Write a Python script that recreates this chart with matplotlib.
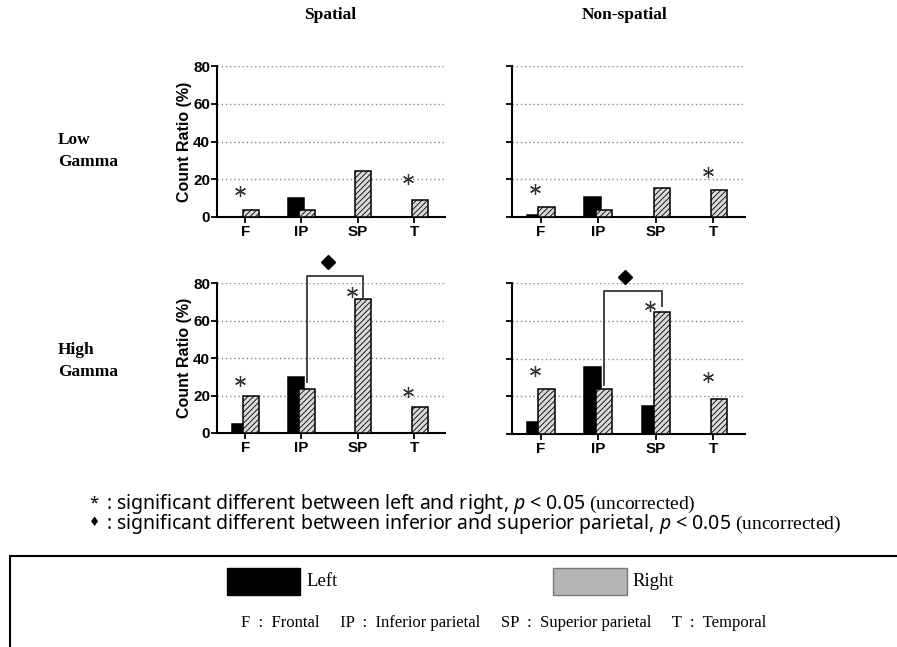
import matplotlib
matplotlib.use('Agg')
import matplotlib.pyplot as plt
import numpy as np
from matplotlib.patches import Rectangle

# values (count ratio in %)
categories = ['F', 'IP', 'SP', 'T']

spatial_low_left = [0, 10, 0, 0]
spatial_low_right = [3.5, 3.5, 24.5, 9]
nonspatial_low_left = [0.8, 10.5, 0, 0]
nonspatial_low_right = [5.5, 3.7, 15.5, 14.5]
spatial_high_left = [5, 30, 0, 0]
spatial_high_right = [19.5, 23.5, 71.5, 14]
nonspatial_high_left = [6.4, 35.5, 15, 0]
nonspatial_high_right = [24, 24, 64.5, 18.5]

# asterisks: category index and height
spatial_low_stars = ([0, 3], [14, 20])
nonspatial_low_stars = ([0, 3], [15, 24])
spatial_high_stars = ([0, 2, 3], [28, 75, 22])
nonspatial_high_stars = ([0, 2, 3], [33.5, 68, 30])

# IP vs SP bracket: start height, top height, end height
spatial_high_bracket = [27, 84, 72.5]
nonspatial_high_bracket = [26, 76, 68]

W, H = 897, 647
fig = plt.figure(figsize=(W / 100, H / 100), dpi=100)

plt.rcParams['hatch.linewidth'] = 0.6

def px_axes(x0, x1, y_top, y_bot):
    return fig.add_axes([x0 / W, 1 - y_bot / H, (x1 - x0) / W, (y_bot - y_top) / H])

ax_sl = px_axes(217, 445, 66, 217)
ax_nl = px_axes(512, 745, 66, 217)
ax_sh = px_axes(217, 445, 283, 433)
ax_nh = px_axes(512, 745, 283, 434)

bw = 0.28
off = 0.1
x = np.arange(len(categories))

panels = [
    (ax_sl, spatial_low_left, spatial_low_right, spatial_low_stars, None, True),
    (ax_nl, nonspatial_low_left, nonspatial_low_right, nonspatial_low_stars, None, False),
    (ax_sh, spatial_high_left, spatial_high_right, spatial_high_stars, spatial_high_bracket, True),
    (ax_nh, nonspatial_high_left, nonspatial_high_right, nonspatial_high_stars, nonspatial_high_bracket, False),
]

for ax, left, right, stars, bracket, show_y in panels:
    lv = np.array(left, dtype=float)
    m = lv > 0
    ax.bar(x[m] - off, lv[m], bw, color='black', edgecolor='black', linewidth=1.1, zorder=3)
    ax.bar(x + off, right, bw, color='#d9d9d9', edgecolor='black', linewidth=1.1,
           hatch='//////', zorder=4)
    sx = np.array(stars[0]) - off
    ax.plot(sx, stars[1], linestyle='none', marker=(6, 2, 0), markersize=8,
            markeredgewidth=0.9, color='#333333', zorder=5, clip_on=False)
    if bracket is not None:
        bx = [1 + off, 1 + off, 2 + off, 2 + off]
        by = [bracket[0], bracket[1], bracket[1], bracket[2]]
        ax.plot(bx, by, color='#444444', linewidth=1.4, clip_on=False, zorder=5)
        ax.plot([1.5 - 0.03], [bracket[1] + 7], marker='D', markersize=7.5, color='black',
                clip_on=False)
    ax.set_xlim(-0.5, 3.55)
    ax.set_ylim(0, 80)
    ax.set_yticks([0, 20, 40, 60, 80])
    ax.set_xticks(x)
    ax.set_xticklabels(categories, fontfamily='Liberation Sans', fontweight='bold', fontsize=11)
    for y in [20, 40, 60, 80]:
        ax.axhline(y, color='#888888', linestyle=(0, (1, 2)), linewidth=1.0, zorder=1)
    for s in ['top', 'right']:
        ax.spines[s].set_visible(False)
    ax.spines['left'].set_linewidth(1.5)
    ax.spines['bottom'].set_linewidth(1.5)
    ax.tick_params(axis='y', direction='out', length=4, width=1.3, pad=1)
    ax.tick_params(axis='x', direction='out', length=4, width=1.3, pad=2)
    if show_y:
        ax.set_yticklabels(['0', '20', '40', '60', '80'], fontfamily='Liberation Sans',
                           fontweight='bold', fontsize=11)
        ax.set_ylabel('Count Ratio (%)', fontfamily='Liberation Sans', fontweight='bold',
                      fontsize=11.5, labelpad=1)
    else:
        ax.set_yticklabels([])

def ftext(px, py, s, **kw):
    fig.text(px / W, 1 - py / H, s, **kw)

serif_b = dict(fontfamily='Liberation Serif', fontweight='bold', fontsize=12.5)
ftext(330, 15, 'Spatial', ha='center', va='center', **serif_b)
ftext(625, 15, 'Non-spatial', ha='center', va='center', **serif_b)
ftext(58, 151, 'Low\nGamma', ha='left', va='center', linespacing=1.45, **serif_b)
ftext(58, 361, 'High\nGamma', ha='left', va='center', linespacing=1.45, **serif_b)

plt.rcParams['mathtext.fontset'] = 'custom'
plt.rcParams['mathtext.it'] = 'Noto Sans:italic'
plt.rcParams['mathtext.rm'] = 'Liberation Serif'

ftext(89, 504, '*', fontfamily='Noto Sans', fontsize=12, ha='left', va='center')
ftext(89, 523, '\u2666', fontfamily='DejaVu Sans', fontsize=9, ha='left', va='center')
notes = (r': significant different between left and right, $p$ < 0.05 $\mathrm{(uncorrected)}$'
         '\n'
         r': significant different between inferior and superior parietal, $p$ < 0.05 $\mathrm{(uncorrected)}$')
ftext(106, 514, notes, fontfamily='Noto Sans', fontsize=14, ha='left', va='center',
      linespacing=0.82)

# legend box
fig.add_artist(Rectangle((10 / W, -0.1), 1.2, (H - 556) / H + 0.1, transform=fig.transFigure,
                         fill=False, edgecolor='black', linewidth=1.5))
fig.add_artist(Rectangle((227 / W, 1 - 595 / H), 73 / W, 27 / H, transform=fig.transFigure,
                         facecolor='black', edgecolor='black'))
fig.add_artist(Rectangle((553 / W, 1 - 595 / H), 74 / W, 27 / H, transform=fig.transFigure,
                         facecolor='#b4b4b4', edgecolor='#7a7a7a', linewidth=1))
serif = dict(fontfamily='Liberation Serif', fontsize=13.5, va='center')
ftext(306, 582, 'Left', ha='left', **serif)
ftext(632, 582, 'Right', ha='left', **serif)
ftext(504, 623, 'F  :  Frontal     IP  :  Inferior parietal     SP  :  Superior parietal     T  :  Temporal',
      ha='center', fontfamily='Liberation Serif', fontsize=12, va='center')

fig.savefig('out.png', dpi=100)
